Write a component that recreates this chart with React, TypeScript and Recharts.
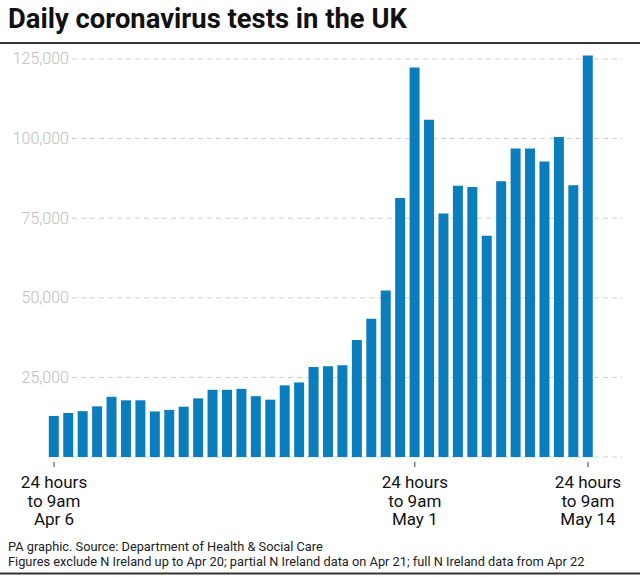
import { BarChart, Bar, XAxis, YAxis, CartesianGrid } from 'recharts'

// 24 hours to 9am on each day (no figure published for May 13)
const days = [
  'Apr 6', 'Apr 7', 'Apr 8', 'Apr 9', 'Apr 10', 'Apr 11', 'Apr 12', 'Apr 13',
  'Apr 14', 'Apr 15', 'Apr 16', 'Apr 17', 'Apr 18', 'Apr 19', 'Apr 20', 'Apr 21',
  'Apr 22', 'Apr 23', 'Apr 24', 'Apr 25', 'Apr 26', 'Apr 27', 'Apr 28', 'Apr 29',
  'Apr 30', 'May 1', 'May 2', 'May 3', 'May 4', 'May 5', 'May 6', 'May 7',
  'May 8', 'May 9', 'May 10', 'May 11', 'May 12', 'May 14',
]

const tests = [
  12900, 13800, 14400, 15900, 18900, 17800, 17800, 14300,
  14800, 15800, 18400, 21100, 21100, 21400, 19100, 18000,
  22500, 23400, 28300, 28500, 28800, 36700, 43400, 52300,
  81300, 122300, 105900, 76500, 85200, 84800, 69500, 86600,
  96900, 96900, 92800, 100500, 85300, 126100,
]

const yTicks = [25000, 50000, 75000, 100000, 125000]
const labelledDays = ['Apr 6', 'May 1', 'May 14']

const BLUE = '#0a7dbd'
const FONT = 'Roboto, "Liberation Sans", Arial, sans-serif'
const GRID_LEFT = 72
const LABEL_RIGHT = 69

const data = days.map((day, i) => ({ day, tests: tests[i] }))

const fmt = (v: number) => String(v).replace(/\B(?=(\d{3})+(?!\d))/g, ',')

function DayTick(props: any) {
  const { x, y, payload } = props
  if (!labelledDays.includes(payload.value)) return <g />
  return (
    <g>
      <line x1={x} x2={x} y1={y + 5} y2={y + 10} stroke="#444" strokeWidth={1} />
      <text x={x} y={y + 31} textAnchor="middle" fontSize={17} fill="#111" fontFamily={FONT}>
        <tspan x={x}>24 hours</tspan>
        <tspan x={x} dy={18.5}>to 9am</tspan>
        <tspan x={x} dy={18.5}>{payload.value}</tspan>
      </text>
    </g>
  )
}

function ValueTick(props: any) {
  const { y, payload } = props
  return (
    <text x={LABEL_RIGHT} y={y} dy={5.5} textAnchor="end" fontSize={16} fontWeight={300} fill="#bdbdbd" fontFamily={FONT}>
      {fmt(payload.value)}
    </text>
  )
}

export default function App() {
  return (
    <div style={{ position: 'absolute', left: 0, top: 0, width: 640, height: 577, background: '#fff', fontFamily: FONT }}>
      <div style={{ position: 'absolute', left: 0, top: 0 }}>
        <BarChart width={640} height={577} data={data} margin={{ top: 43, right: 18, bottom: 0, left: 46.8 }} barSize={10}>
          <CartesianGrid
            vertical={false}
            horizontal={(p: any) => (
              <line key={'h' + p.y1} x1={GRID_LEFT} x2={p.x2} y1={p.y1} y2={p.y2} stroke="#cfcfcf" strokeDasharray="5 4" />
            )}
          />
          <XAxis
            dataKey="day"
            interval={0}
            height={120}
            tickLine={false}
            axisLine={false}
            tickSize={0}
            tickMargin={0}
            padding={{ left: 0, right: 26.8 }}
            tick={<DayTick />}
          />
          <YAxis
            mirror
            domain={[0, 130000]}
            ticks={yTicks}
            interval={0}
            axisLine={false}
            tickLine={false}
            tick={<ValueTick />}
          />
          <Bar dataKey="tests" fill={BLUE} isAnimationActive={false} />
        </BarChart>
      </div>
      <svg width={640} height={577} style={{ position: 'absolute', left: 0, top: 0, pointerEvents: 'none' }}>
        <text x={8} y={28} fontSize={27.4} fontWeight={700} fill="#111" fontFamily={FONT}>
          Daily coronavirus tests in the UK
        </text>
        <line x1={0} x2={640} y1={43} y2={43} stroke="#333" strokeWidth={2} />
        <text x={8} y={550.5} fontSize={12.8} fill="#222" fontFamily={FONT}>
          PA graphic. Source: Department of Health &amp; Social Care
        </text>
        <text x={8} y={565.5} fontSize={12.8} fill="#222" fontFamily={FONT}>
          Figures exclude N Ireland up to Apr 20; partial N Ireland data on Apr 21; full N Ireland data from Apr 22
        </text>
        <line x1={0} x2={640} y1={573.5} y2={573.5} stroke="#333" strokeWidth={2} />
      </svg>
    </div>
  )
}
